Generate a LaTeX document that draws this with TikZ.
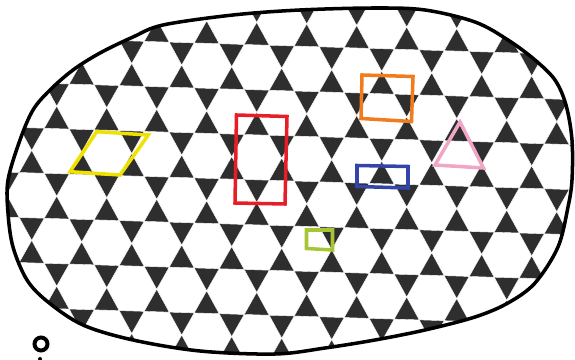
\documentclass[tikz,border=0pt]{standalone}
\definecolor{markyellow}{HTML}{F0E200}
\definecolor{markred}{HTML}{E61E28}
\definecolor{markorange}{HTML}{F07C1E}
\definecolor{markblue}{HTML}{3444A8}
\definecolor{markpink}{HTML}{F2A6C6}
\definecolor{markgreen}{HTML}{A6C634}
\begin{document}
\begin{tikzpicture}[
  x=0.025cm, y=-0.025cm,
  tri/.style={fill=black!82, draw=white, line width=0.3pt},
  outline/.style={line width=2.5pt, line join=round},
  marker/.style={line width=2.5pt, line join=miter}
]

% Frame of the picture
\useasboundingbox (0,0) rectangle (575,360);

% Outline of the sample
\def\blob{plot[smooth cycle, tension=0.55] coordinates {
  (8,180) (20,140) (33,110) (50,90) (73,70) (100,53) (133,37) (163,25)
  (233,15) (300,10) (375,8) (425,10) (475,22) (508,40) (535,60) (555,80)
  (566,105) (572,140) (572,180) (568,207) (558,247) (535,283) (508,303)
  (475,317) (425,330) (375,340) (325,348) (275,354) (200,351) (133,340)
  (83,325) (48,302) (27,280) (13,247) (8,213)}}

% Kagome pattern (rows of up and down triangles)
\begin{scope}
  \clip \blob;
  \begin{scope}[shift={(100,220)}, yslant=-0.031]
    \foreach \k in {-5,...,3} {
      \foreach \m in {-4,...,13} {
        \pgfmathsetmacro\cx{-43.3+25*\k+50*\m}
        \pgfmathsetmacro\cy{45*\k}
        \path[tri] (\cx-12.5,\cy) -- (\cx+12.5,\cy) -- (\cx,\cy-22.5) -- cycle;
        \path[tri] (\cx-37.5,\cy) -- (\cx-12.5,\cy) -- (\cx-25,\cy+22.5) -- cycle;
      }
    }
  \end{scope}
\end{scope}
\draw[outline] \blob;

% Coloured unit cells
\draw[marker, markyellow] (96.7,131.7) -- (148.3,135) -- (120,175) -- (70,171.7) -- cycle;
\draw[marker, markred] (236.5,115) -- (287,116.5) -- (285,204) -- (235,203) -- cycle;
\draw[marker, markorange] (362,75) -- (413,76.5) -- (411.5,121.5) -- (361,118.5) -- cycle;
\draw[marker, markblue] (357,165.5) -- (408,166.5) -- (408,188) -- (357,186.5) -- cycle;
\draw[marker, markpink] (460,122) -- (483.5,168) -- (435,165) -- cycle;
\draw[marker, markgreen] (306.5,230) -- (332.5,230) -- (332.5,250) -- (306.5,248.5) -- cycle;

% Mark at the corner
\draw[line width=2.8pt] (41,344) circle[radius=6.5];
\fill (40,359) circle[radius=2];

\end{tikzpicture}
\end{document}
